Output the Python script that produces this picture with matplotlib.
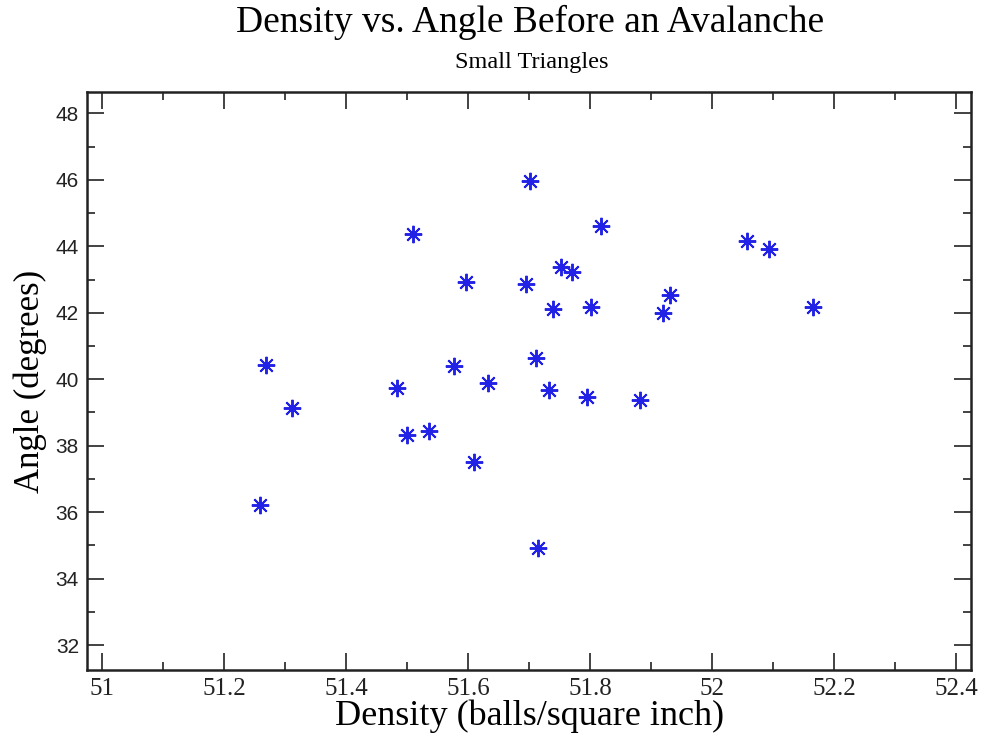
import matplotlib
matplotlib.use('Agg')
import matplotlib.pyplot as plt
from matplotlib.ticker import MultipleLocator

FIG_SIZE = (9.84, 7.38)
SERIF = 'Liberation Serif'
SANS = 'Liberation Sans'

density = [51.701, 51.817, 51.510, 52.057, 52.093, 51.752, 51.770, 51.596,
           51.694, 51.931, 51.801, 52.166, 51.739, 51.919, 51.711, 51.268,
           51.576, 51.632, 51.484, 51.733, 51.794, 51.882, 51.311, 51.536,
           51.499, 51.610, 51.259, 51.714]
angle = [45.96, 44.62, 44.37, 44.17, 43.92, 43.38, 43.22, 42.93,
         42.85, 42.53, 42.18, 42.18, 42.10, 41.98, 40.65, 40.42,
         40.40, 39.89, 39.75, 39.69, 39.47, 39.37, 39.14, 38.44,
         38.32, 37.52, 36.23, 34.91]

x_ticks = [51, 51.2, 51.4, 51.6, 51.8, 52, 52.2, 52.4]
x_tick_labels = ['51', '51.2', '51.4', '51.6', '51.8', '52', '52.2', '52.4']
y_ticks = [32, 34, 36, 38, 40, 42, 44, 46, 48]


def plot_density_angle():
    fig = plt.figure(figsize=FIG_SIZE, dpi=100)
    ax = fig.add_axes([0.0887, 0.0921, 0.8978, 0.7836])

    ax.plot(density, angle, linestyle='none', marker=(8, 2, 0), markersize=12.5,
            markeredgewidth=1.4, color='#2222e6')

    ax.set_xlim(50.9754, 52.424)
    ax.set_ylim(31.25, 48.65)
    ax.set_xticks(x_ticks)
    ax.set_xticklabels(x_tick_labels)
    ax.set_yticks(y_ticks)
    ax.xaxis.set_minor_locator(MultipleLocator(0.1))
    ax.yaxis.set_minor_locator(MultipleLocator(1))
    ax.tick_params(which='both', direction='in', top=True, right=True, width=1.2, colors='#222222')
    ax.tick_params(which='major', length=12)
    ax.tick_params(which='minor', length=6)
    ax.tick_params(axis='x', pad=6)
    ax.tick_params(axis='y', pad=6)
    for lbl in ax.get_xticklabels():
        lbl.set_fontfamily(SERIF)
        lbl.set_fontsize(18)
    for lbl in ax.get_yticklabels():
        lbl.set_fontfamily(SANS)
        lbl.set_fontsize(15)
    for sp in ax.spines.values():
        sp.set_linewidth(1.8)
        sp.set_color('#222222')

    fig.text(0.539, 0.969, 'Density vs. Angle Before an Avalanche', ha='center', va='center',
             fontsize=27, family=SERIF)
    fig.text(0.540, 0.915, 'Small Triangles', ha='center', va='center', fontsize=17.5, family=SERIF)
    fig.text(0.538, 0.030, 'Density (balls/square inch)', ha='center', va='center',
             fontsize=26, family=SERIF)
    fig.text(0.031, 0.483, 'Angle (degrees)', ha='center', va='center', rotation=90,
             fontsize=25, family=SERIF)

    fig.savefig('out.png', dpi=100)


if __name__ == "__main__":
    plot_density_angle()
